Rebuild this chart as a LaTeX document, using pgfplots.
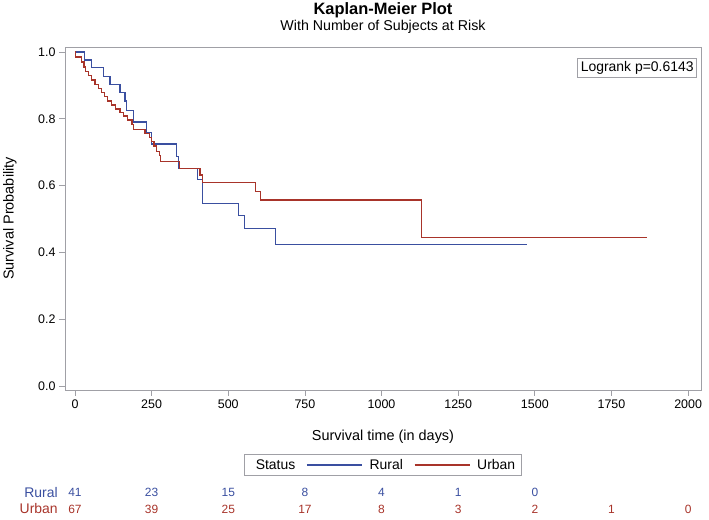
\documentclass[border=0pt]{standalone}
\usepackage{pgfplots}
\pgfplotsset{compat=1.18}
\usepackage{fontspec}
\setmainfont{Liberation Sans}
\definecolor{cblue}{HTML}{3A4FA0}
\definecolor{cred}{HTML}{A8342A}
\definecolor{framec}{HTML}{A0A0A6}
\begin{document}
\begin{tikzpicture}[x=1bp,y=1bp]
\useasboundingbox (-65,-130) rectangle (644,390);
\begin{axis}[
  at={(0,0)}, anchor=south west,
  scale only axis, width=636bp, height=343bp,
  xmin=-32.6, xmax=2042, ymin=-0.012, ymax=1.015,
  xtick={0,250,500,750,1000,1250,1500,1750,2000},
  ytick={0,0.2,0.4,0.6,0.8,1},
  xtick pos=bottom, ytick pos=left,
  tick align=outside, major tick length=6bp,
  tick style={color=framec, line width=0.8bp},
  axis line style={color=framec, line width=0.9bp},
  /pgf/number format/assume math mode=true,
  x tick label style={/pgf/number format/1000 sep={}, font=\fontsize{12.5}{14}\selectfont},
  y tick label style={/pgf/number format/fixed, /pgf/number format/fixed zerofill, /pgf/number format/precision=1, font=\fontsize{12.5}{14}\selectfont},
  xlabel={Survival time (in days)},
  xlabel style={font=\fontsize{14.5}{16}\selectfont, at={(axis description cs:0.5,-0.137)}, anchor=center},
  ylabel={Survival Probability},
  ylabel style={font=\fontsize{14.5}{16}\selectfont, at={(axis description cs:-0.0865,0.5)}, anchor=center},
  clip=false,
  legend columns=-1,
  legend style={at={(axis description cs:0.5,-0.2187)}, anchor=center, draw=framec, line width=0.8bp,
    font=\fontsize{14}{16}\selectfont, inner xsep=4bp, inner ysep=3bp,
    /tikz/every odd column/.append style={column sep=5bp},
    /tikz/every even column/.append style={column sep=9bp}},
  legend image code/.code={\draw[#1] (0bp,0bp) -- (55bp,0bp);},
]
\addlegendimage{empty legend}
\addlegendentry{Status\hspace{12bp}}
\addplot[const plot, cblue, line width=1.3bp] coordinates {
(0,1.0) (30,0.976) (54,0.953) (92,0.926) (114,0.902) (147,0.878) (163,0.853)
(168,0.825) (190,0.790) (234,0.758) (250,0.7246) (332,0.687) (338,0.652)
(399,0.619) (415,0.547) (533,0.510) (553,0.472) (655,0.423) (1475,0.423)
};
\addlegendentry{Rural}
\addplot[const plot, cred, line width=1.3bp] coordinates {
(0,1.0) (2,0.985) (22,0.970) (29,0.955) (35,0.942) (44,0.929) (54,0.916)
(65,0.903) (76,0.891) (87,0.878) (96,0.866) (107,0.853) (120,0.841)
(132,0.829) (147,0.818) (158,0.808) (172,0.796) (186,0.782) (190,0.768)
(228,0.757) (243,0.745) (250,0.731) (258,0.719) (266,0.702) (276,0.690)
(280,0.672) (340,0.652) (408,0.632) (415,0.609) (588,0.582) (605,0.557)
(1130,0.445) (1865,0.445)
};
\addlegendentry{Urban}
% logrank box
\node[draw=framec, line width=0.8bp, anchor=north east, inner sep=3bp, font=\fontsize{14}{16}\selectfont]
  at (axis description cs:0.9937,0.968) {Logrank p=0.6143};
% titles
\node[font=\bfseries\fontsize{16.5}{18}\selectfont] at (axis description cs:0.5,1.108) {Kaplan-Meier Plot};
\node[font=\fontsize{14.3}{16}\selectfont] at (axis description cs:0.5,1.058) {With Number of Subjects at Risk};
% risk table
\node[cblue, anchor=east, font=\fontsize{14}{16}\selectfont] at (axis cs:-45,-0.320) {Rural};
\node[cred, anchor=east, font=\fontsize{14}{16}\selectfont] at (axis cs:-45,-0.368) {Urban};
\node[cblue, font=\fontsize{12}{13}\selectfont] at (axis cs:0,-0.320) {41};
\node[cblue, font=\fontsize{12}{13}\selectfont] at (axis cs:250,-0.320) {23};
\node[cblue, font=\fontsize{12}{13}\selectfont] at (axis cs:500,-0.320) {15};
\node[cblue, font=\fontsize{12}{13}\selectfont] at (axis cs:750,-0.320) {8};
\node[cblue, font=\fontsize{12}{13}\selectfont] at (axis cs:1000,-0.320) {4};
\node[cblue, font=\fontsize{12}{13}\selectfont] at (axis cs:1250,-0.320) {1};
\node[cblue, font=\fontsize{12}{13}\selectfont] at (axis cs:1500,-0.320) {0};
\node[cred, font=\fontsize{12}{13}\selectfont] at (axis cs:0,-0.368) {67};
\node[cred, font=\fontsize{12}{13}\selectfont] at (axis cs:250,-0.368) {39};
\node[cred, font=\fontsize{12}{13}\selectfont] at (axis cs:500,-0.368) {25};
\node[cred, font=\fontsize{12}{13}\selectfont] at (axis cs:750,-0.368) {17};
\node[cred, font=\fontsize{12}{13}\selectfont] at (axis cs:1000,-0.368) {8};
\node[cred, font=\fontsize{12}{13}\selectfont] at (axis cs:1250,-0.368) {3};
\node[cred, font=\fontsize{12}{13}\selectfont] at (axis cs:1500,-0.368) {2};
\node[cred, font=\fontsize{12}{13}\selectfont] at (axis cs:1750,-0.368) {1};
\node[cred, font=\fontsize{12}{13}\selectfont] at (axis cs:2000,-0.368) {0};
\end{axis}
\end{tikzpicture}
\end{document}
